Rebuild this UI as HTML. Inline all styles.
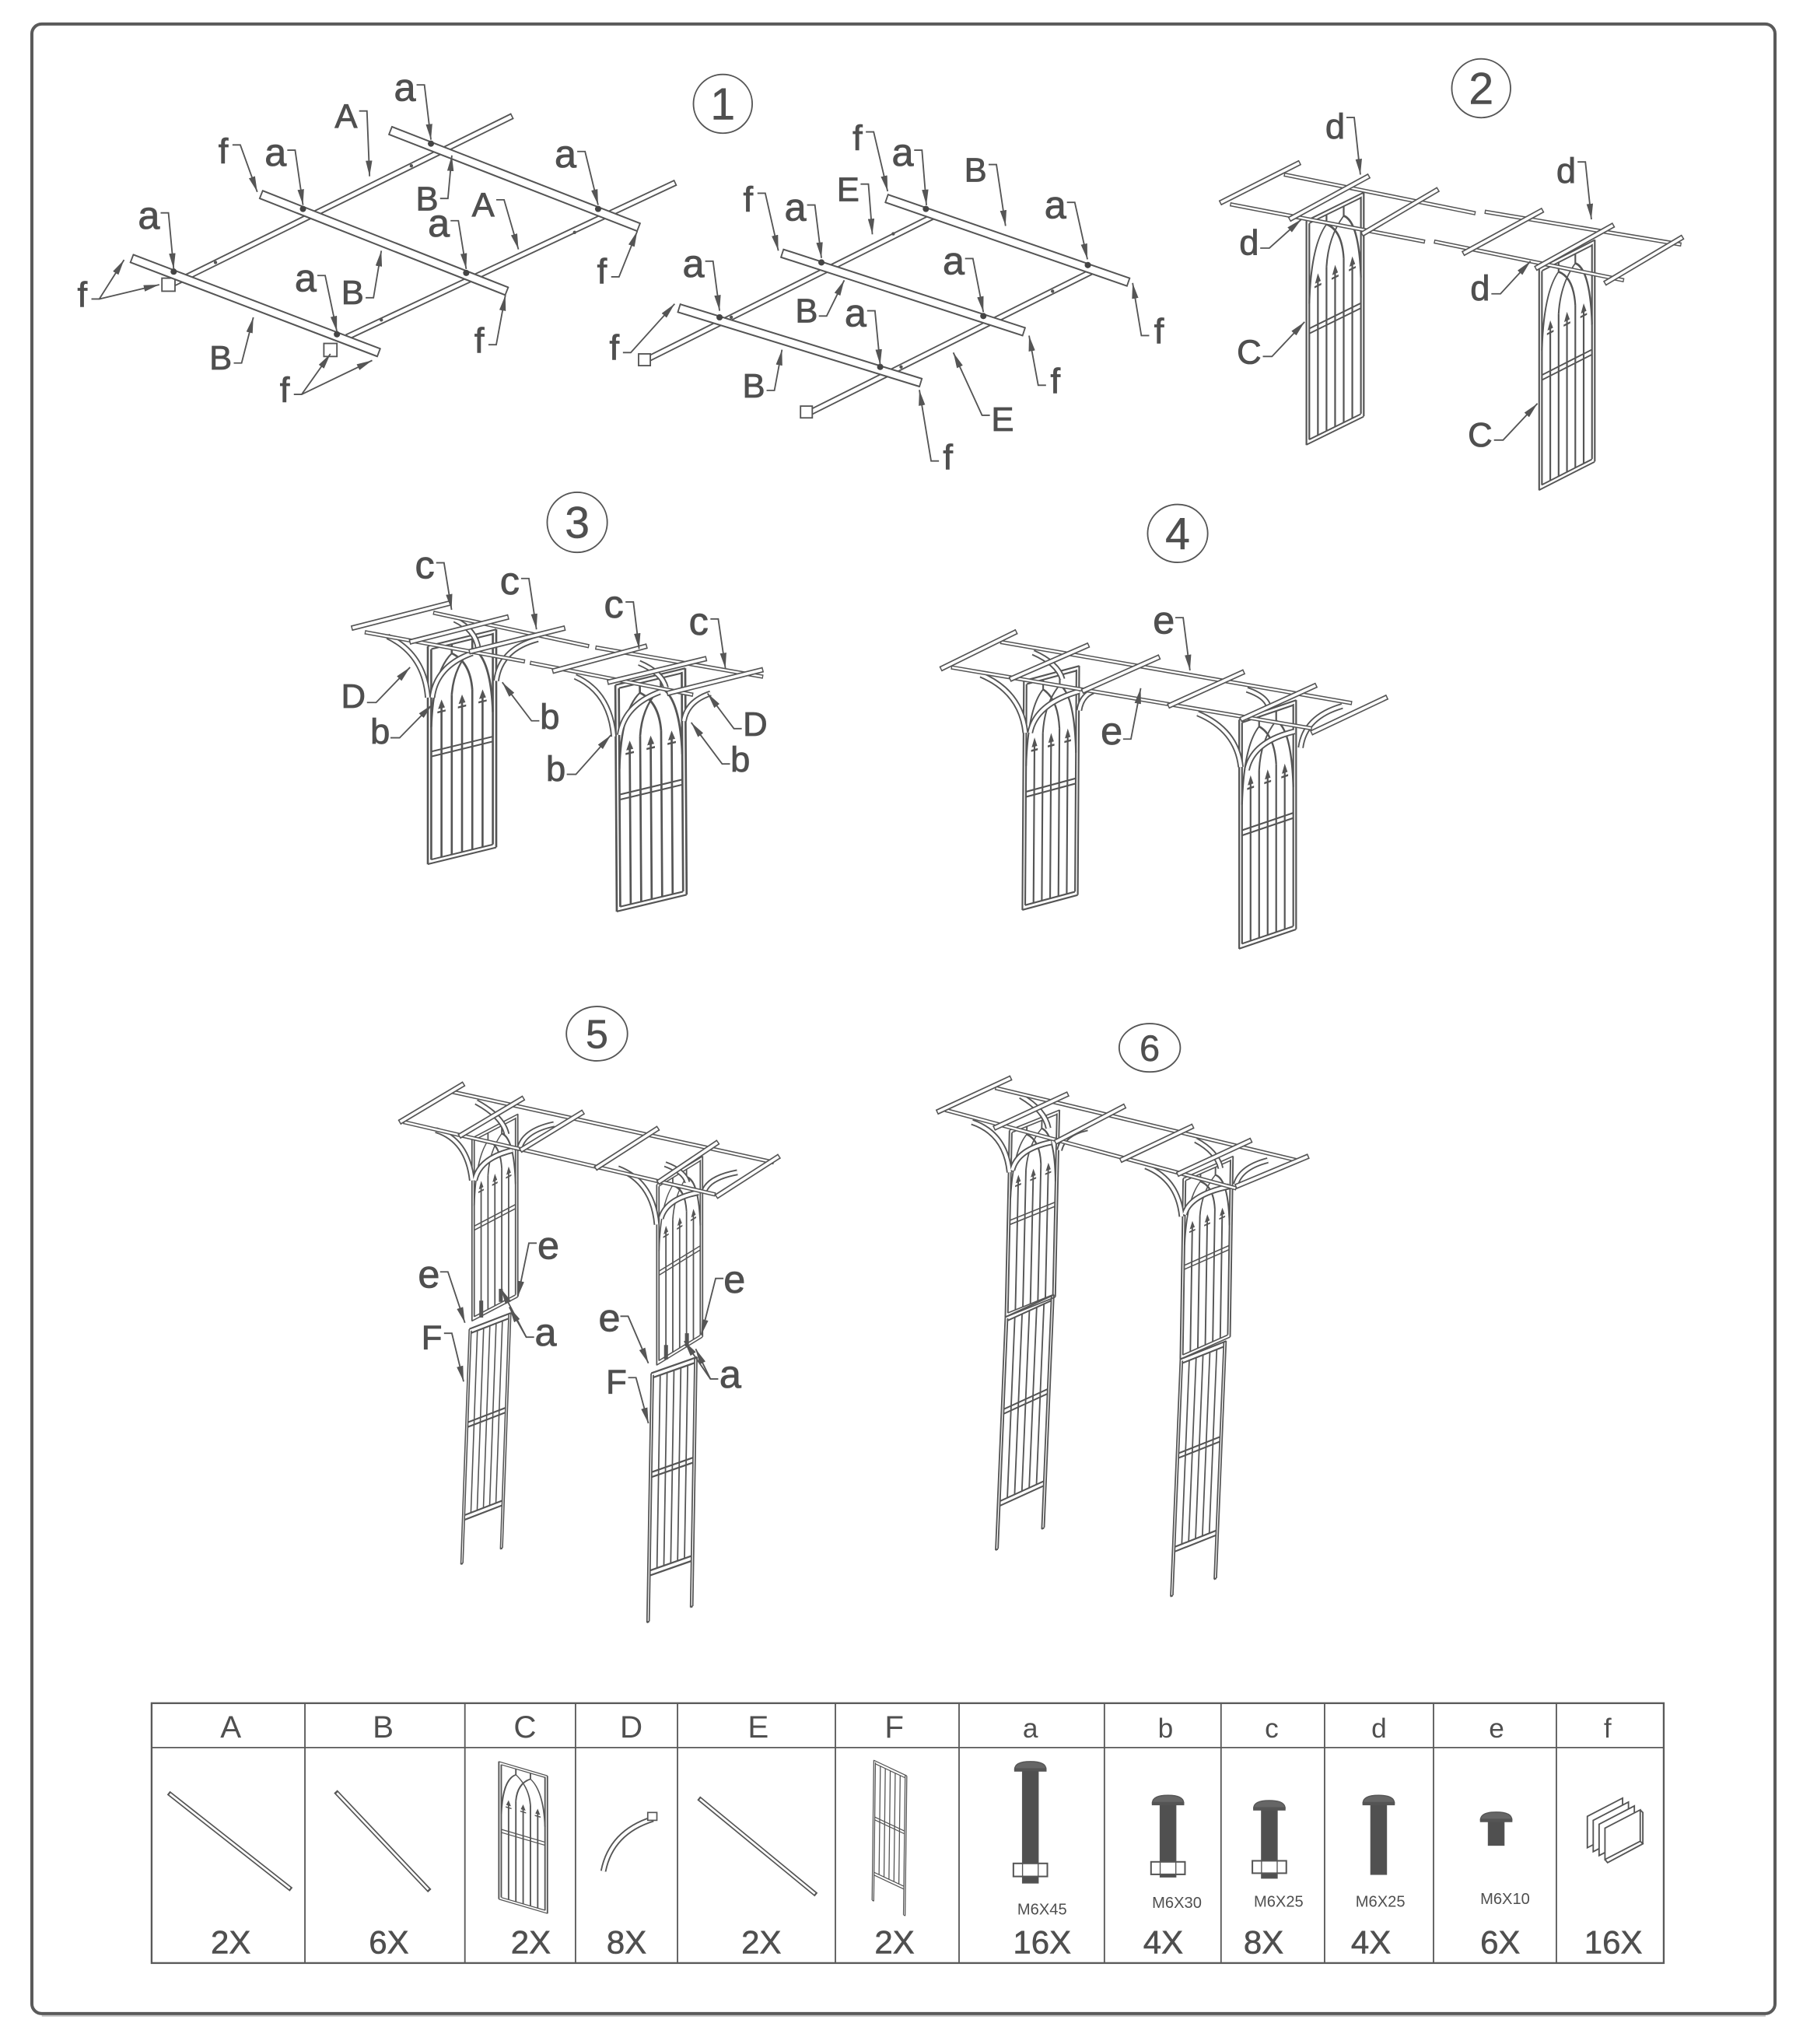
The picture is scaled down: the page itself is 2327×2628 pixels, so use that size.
<!DOCTYPE html>
<html><head><meta charset="utf-8">
<style>
html,body{margin:0;padding:0;background:#fff;overflow:hidden}
svg{display:block}
text{font-family:"Liberation Sans",Arial,sans-serif;fill:#4f4f4f}
.lc{font-size:30px;text-anchor:middle;stroke:#4f4f4f;stroke-width:.5}
.la{font-size:27px;text-anchor:middle;stroke:#4f4f4f;stroke-width:.5}
.lC{font-size:26px;text-anchor:middle;stroke:#4f4f4f;stroke-width:.5}
.num{font-size:34px;text-anchor:middle;stroke:#4f4f4f;stroke-width:.3}
.th{font-size:24px;text-anchor:middle}
.tl{font-size:21px;text-anchor:middle}
.tc{font-size:25px;text-anchor:middle;stroke:#4f4f4f;stroke-width:.35}
.ts{font-size:12px;text-anchor:middle}
.ld{stroke:#555;stroke-width:1.1;fill:none;marker-end:url(#ar)}
.bo{stroke:#555;stroke-width:7.5;fill:none}
.bi{stroke:#fff;stroke-width:5.1;fill:none;marker-start:url(#c7);marker-mid:url(#c7);marker-end:url(#c7)}
.ro{stroke:#555;stroke-width:5;fill:none}
.ri{stroke:#fff;stroke-width:2.8;fill:none;marker-start:url(#c5);marker-mid:url(#c5);marker-end:url(#c5)}
.go{stroke:#555;stroke-width:4.2;fill:none}
.gi{stroke:#fff;stroke-width:2.2;fill:none;marker-start:url(#c4);marker-mid:url(#c4);marker-end:url(#c4)}
.so{stroke:#555;stroke-width:3.2;fill:none}
.si{stroke:#fff;stroke-width:1.4;fill:none;marker-start:url(#c3);marker-mid:url(#c3);marker-end:url(#c3)}
.do{stroke:#555;stroke-width:4.6;fill:none}
.di{stroke:#fff;stroke-width:2.4;fill:none}
.cir{stroke:#555;stroke-width:1.1;fill:none}
</style></head><body>
<svg width="2327" height="2628" viewBox="0 0 1386 1565.3" preserveAspectRatio="none" xmlns="http://www.w3.org/2000/svg">
<defs>
<marker id="ar" markerUnits="userSpaceOnUse" viewBox="0 0 12 5" refX="12" refY="2.5" markerWidth="12" markerHeight="5" orient="auto"><path d="M0,0L12,2.5L0,5z" fill="#555"/></marker>
<marker id="c7" markerUnits="userSpaceOnUse" viewBox="0 0 12 12" refX="6" refY="6" markerWidth="12" markerHeight="12" orient="auto"><path d="M6,2.3V9.7" stroke="#555" stroke-width="1.1"/></marker>
<marker id="c5" markerUnits="userSpaceOnUse" viewBox="0 0 12 12" refX="6" refY="6" markerWidth="12" markerHeight="12" orient="auto"><path d="M6,3.5V8.5" stroke="#555" stroke-width="1"/></marker>
<marker id="c4" markerUnits="userSpaceOnUse" viewBox="0 0 12 12" refX="6" refY="6" markerWidth="12" markerHeight="12" orient="auto"><path d="M6,3.9V8.1" stroke="#555" stroke-width=".9"/></marker>
<marker id="c3" markerUnits="userSpaceOnUse" viewBox="0 0 12 12" refX="6" refY="6" markerWidth="12" markerHeight="12" orient="auto"><path d="M6,4.4V7.6" stroke="#555" stroke-width=".8"/></marker>
<g id="pc" fill="none" stroke="#555" stroke-width="3">
<path d="M0,0V400M5,7V393M95,5V393M100,0V400M0,0H100M5,7H95M0,400H100M5,393H95"/>
<path d="M5,195H95M5,204H95"/>
<path d="M20,114V393M50,114V393M80,114V393M35,100V393M65,100V393"/>
<path d="M5,150Q8,48 35,24Q62,48 65,100M35,100Q38,48 65,24Q92,48 95,150M35,7V24M65,7V24"/>
<path d="M20,104l-5,16h10zM50,104l-5,16h10zM80,104l-5,16h10z" fill="#555" stroke="none"/>
<path d="M14,126H26M44,126H56M74,126H86" stroke-width="3.5"/>
</g>
<g id="pf" fill="none" stroke="#555" stroke-width="3">
<path d="M0,0V400M5,4V400M95,0V400M100,0V400M0,400H5M95,400H100"/>
<path d="M0,0H100M5,8H95M5,160H95M5,168H95M5,318H95M5,326H95"/>
<path d="M20,8V318M35,8V318M50,8V318M65,8V318M80,8V318"/>
</g>
</defs>

<!-- outer border -->
<rect x="24.4" y="18.4" width="1334.8" height="1523.6" rx="7.5" fill="none" stroke="#5a5a5a" stroke-width="2.4"/>
<path d="M32,1543.8H1352" stroke="#bbb" stroke-width="1"/>

<!-- step circles -->
<circle class="cir" cx="553.5" cy="79.5" r="22.5"/><text class="num" x="553.5" y="91.5">1</text>
<circle class="cir" cx="1134.2" cy="67.6" r="22.5"/><text class="num" x="1134.2" y="79.6">2</text>
<circle class="cir" cx="442" cy="400" r="23"/><text class="num" x="442" y="412">3</text>
<ellipse class="cir" cx="901.8" cy="408.5" rx="23" ry="22.2"/><text class="num" x="901.8" y="420.5">4</text>
<ellipse class="cir" cx="457.1" cy="791.6" rx="23.4" ry="20.8"/><text class="num" x="457.1" y="802.5" style="font-size:31px">5</text>
<ellipse class="cir" cx="880.4" cy="802.4" rx="23.4" ry="18.5"/><text class="num" x="880.4" y="812.5" style="font-size:28px">6</text>

<!-- ============ STEP 1 LEFT ============ -->
<path class="ro" d="M392,89L125,221M517,140L266,258"/>
<path class="ri" d="M392,89L125,221M517,140L266,258"/>
<g fill="#555"><circle cx="165" cy="201" r="1.3"/><circle cx="315" cy="127" r="1.3"/><circle cx="292" cy="245" r="1.3"/><circle cx="440" cy="178" r="1.3"/></g>
<rect x="124" y="213" width="10" height="10" fill="#fff" stroke="#555" stroke-width="1.1"/>
<rect x="248" y="263" width="10" height="10" fill="#fff" stroke="#555" stroke-width="1.1"/>
<path class="bo" d="M299,100L489,174M200,149L388,223M101,198L290,270"/>
<path class="bi" d="M299,100L489,174M200,149L388,223M101,198L290,270"/>
<g fill="#444"><circle cx="330" cy="110" r="2.4"/><circle cx="458" cy="160" r="2.4"/><circle cx="232" cy="160" r="2.4"/><circle cx="357" cy="209" r="2.4"/><circle cx="133" cy="208" r="2.4"/><circle cx="258" cy="256" r="2.4"/></g>

<text class="lc" x="310" y="77">a</text><path class="ld" d="M319,65H325L330,107"/>
<text class="lC" x="265" y="98">A</text><path class="ld" d="M275,85H281L283,135"/>
<text class="la" x="171" y="125">f</text><path class="ld" d="M178,111H184L197,147"/>
<text class="lc" x="211" y="127">a</text><path class="ld" d="M220,115H226L232,157"/>
<text class="lC" x="327" y="161">B</text><path class="ld" d="M337,152H343L346,119"/>
<text class="lC" x="370" y="166">A</text><path class="ld" d="M380,153H386L397,191"/>
<text class="lc" x="433" y="128">a</text><path class="ld" d="M442,116H448L458,157"/>
<text class="lc" x="114" y="175">a</text><path class="ld" d="M123,163H129L133,206"/>
<text class="lc" x="336" y="181">a</text><path class="ld" d="M345,169H351L357,206"/>
<text class="la" x="461" y="217">f</text><path class="ld" d="M468,212H474L488,177"/>
<text class="la" x="63" y="235">f</text><path class="ld" d="M70,229H76L95,199"/><path class="ld" d="M76,229L122,218"/>
<text class="lc" x="234" y="223">a</text><path class="ld" d="M243,211H249L258,254"/>
<text class="lC" x="270" y="233">B</text><path class="ld" d="M280,228H286L292,192"/>
<text class="la" x="367" y="270">f</text><path class="ld" d="M374,264H380L387,226"/>
<text class="lC" x="169" y="283">B</text><path class="ld" d="M179,278H185L194,243"/>
<text class="la" x="218" y="308">f</text><path class="ld" d="M225,302H231L253,271"/><path class="ld" d="M231,302L285,276"/>

<!-- ============ STEP 1 RIGHT ============ -->
<path class="ro" d="M714,166L494,276M838,207L618,317"/>
<path class="ri" d="M714,166L494,276M838,207L618,317"/>
<rect x="489" y="271" width="9" height="9" fill="#fff" stroke="#555" stroke-width="1.1"/>
<rect x="613" y="311" width="9" height="9" fill="#fff" stroke="#555" stroke-width="1.1"/>
<g fill="#555"><circle cx="684" cy="179" r="1.3"/><circle cx="560" cy="243" r="1.3"/><circle cx="806" cy="223" r="1.3"/><circle cx="690" cy="281" r="1.3"/></g>
<path class="bo" d="M679,152L864,216M599,194L784,254M520,236L705,293"/>
<path class="bi" d="M679,152L864,216M599,194L784,254M520,236L705,293"/>
<g fill="#444"><circle cx="709" cy="160" r="2.4"/><circle cx="629" cy="201" r="2.4"/><circle cx="833" cy="203" r="2.4"/><circle cx="551" cy="243" r="2.4"/><circle cx="753" cy="242" r="2.4"/><circle cx="674" cy="281" r="2.4"/></g>

<text class="la" x="656.6" y="115">f</text><path class="ld" d="M663,101H669L679.7,146.5"/>
<text class="lc" x="691.2" y="127">a</text><path class="ld" d="M700,115H706L709.4,157.2"/>
<text class="lC" x="747" y="139">B</text><path class="ld" d="M757,126H763L770,173"/>
<text class="lC" x="649.4" y="154">E</text><path class="ld" d="M659,141H665L668,179.5"/>
<text class="la" x="572.9" y="162">f</text><path class="ld" d="M580,148H586L596,192"/>
<text class="lc" x="609" y="169">a</text><path class="ld" d="M618,157H624L629,197.6"/>
<text class="lc" x="808.1" y="167">a</text><path class="ld" d="M817,155H823L832.7,198.6"/>
<text class="lc" x="531" y="212">a</text><path class="ld" d="M540,200H546L551,238"/>
<text class="lc" x="730.2" y="210">a</text><path class="ld" d="M739,198H745L753,239"/>
<text class="lC" x="617.6" y="247">B</text><path class="ld" d="M627,242H633L646.5,214.6"/>
<text class="lc" x="655.1" y="250">a</text><path class="ld" d="M664,238H670L674,279.5"/>
<text class="la" x="470.4" y="275.5">f</text><path class="ld" d="M477,270H483L516.6,232.7"/>
<text class="la" x="887.5" y="263">f</text><path class="ld" d="M880,257H874L867.3,216.7"/>
<text class="lC" x="577.2" y="304.5">B</text><path class="ld" d="M587,299H593L598.8,267.8"/>
<text class="la" x="808.1" y="301">f</text><path class="ld" d="M801,295H795L788,257"/>
<text class="lC" x="767.7" y="330">E</text><path class="ld" d="M758,318H752L730,270"/>
<text class="la" x="725.9" y="359.5">f</text><path class="ld" d="M719,353H713L704,298.6"/>

<!-- ============ STEP 2 ============ -->
<use href="#pc" transform="matrix(.439,-.216,0,.429,1000.4,169)"/>
<use href="#pc" transform="matrix(.426,-.217,0,.4245,1178.6,205.5)"/>
<path class="so" d="M983.6,133.7L1129.5,163.3M942.3,156.5L1090.8,185M1137.3,162.2L1287.1,187.2M1098.5,185L1243.2,214.6"/>
<path class="si" d="M983.6,133.7L1129.5,163.3M942.3,156.5L1090.8,185M1137.3,162.2L1287.1,187.2M1098.5,185L1243.2,214.6"/>
<path class="go" d="M934.5,155.3L995.2,124.6M987.5,167.9L1048.2,134.8M1043,179.3L1101.1,145.1M1120.5,194.1L1181.2,161M1176,205.5L1235.4,172.4M1229,216.9L1288.4,181.6"/>
<path class="gi" d="M934.5,155.3L995.2,124.6M987.5,167.9L1048.2,134.8M1043,179.3L1101.1,145.1M1120.5,194.1L1181.2,161M1176,205.5L1235.4,172.4M1229,216.9L1288.4,181.6"/>
<text class="la" x="1022.4" y="106">d</text><path class="ld" d="M1031,90H1037L1041.7,133.7"/>
<text class="la" x="956.5" y="195">d</text><path class="ld" d="M965,190H972L996.5,168"/>
<text class="la" x="1199.3" y="140">d</text><path class="ld" d="M1208,124H1214L1218.6,168"/>
<text class="la" x="1133.4" y="230">d</text><path class="ld" d="M1142,225H1149L1172,200"/>
<text class="lC" x="956.5" y="278.5">C</text><path class="ld" d="M967,273H974L999,246.5"/>
<text class="lC" x="1133.4" y="342">C</text><path class="ld" d="M1144,337H1151L1177.3,309"/>

<!-- ============ STEP 3 ============ -->
<use href="#pc" transform="matrix(.524,-.128,0,.4175,327.6,494.8)"/>
<use href="#pc" transform="matrix(.535,-.128,.00275,.4335,471.2,524.6)"/>
<path class="do" d="M296.8,487.4Q325,501 327.6,534.2M361.8,500.1Q334,510 331,534.2M411.9,489.5Q383,497 380,521.4M348.1,474.6Q364,482 366.3,497M440.4,518.2Q467,530 470,564M505.3,529.9Q478,540 474.6,562.9M544.1,531Q526,537 523.6,552.2M489.4,507.6Q507,515 509.9,526.7"/>
<path class="di" d="M296.8,487.4Q325,501 327.6,534.2M361.8,500.1Q334,510 331,534.2M411.9,489.5Q383,497 380,521.4M348.1,474.6Q364,482 366.3,497M440.4,518.2Q467,530 470,564M505.3,529.9Q478,540 474.6,562.9M544.1,531Q526,537 523.6,552.2M489.4,507.6Q507,515 509.9,526.7"/>
<path class="so" d="M279.7,484.2L401.6,506.5M332.1,469.3L450.7,494.8M406.2,507.6L530.4,532M456.3,495.9L584,518.2"/>
<path class="si" d="M279.7,484.2L401.6,506.5M332.1,469.3L450.7,494.8M406.2,507.6L530.4,532M456.3,495.9L584,518.2"/>
<path class="go" d="M269.5,481L344.7,461.8M313.9,491.6L389.1,472.5M359.5,499.1L432.4,481M423.3,514L495.1,494.8M465.5,522.5L540.7,504.4M511,531L584,512.9"/>
<path class="gi" d="M269.5,481L344.7,461.8M313.9,491.6L389.1,472.5M359.5,499.1L432.4,481M423.3,514L495.1,494.8M465.5,522.5L540.7,504.4M511,531L584,512.9"/>
<text class="lc" x="325.3" y="443">c</text><path class="ld" d="M334,431H340L345.8,467"/>
<text class="lc" x="390.3" y="455">c</text><path class="ld" d="M399,443H405L410.8,482"/>
<text class="lc" x="470" y="473">c</text><path class="ld" d="M479,461H485L489.4,497"/>
<text class="lc" x="535" y="486">c</text><path class="ld" d="M544,474H550L555.5,512"/>
<text class="lC" x="270.6" y="542">D</text><path class="ld" d="M281,538H288L314,511"/>
<text class="la" x="291.1" y="569.5">b</text><path class="ld" d="M299,565H306L331,539.5"/>
<text class="la" x="421" y="558">b</text><path class="ld" d="M413,552H407L384.6,522.5"/>
<text class="lC" x="578.3" y="563.5">D</text><path class="ld" d="M568,558H562L541.8,531"/>
<text class="la" x="425.6" y="598">b</text><path class="ld" d="M434,593H441L467.7,563"/>
<text class="la" x="566.9" y="591">b</text><path class="ld" d="M559,585H553L529.3,553.3"/>

<!-- ============ STEP 4 ============ -->
<use href="#pc" transform="matrix(.424,-.114,-.00275,.4385,784,521.4)"/>
<use href="#pc" transform="matrix(.436,-.148,0,.43875,948.9,551)"/>
<path class="do" d="M751.1,516.8Q782,530 785.2,561.2M826.4,529.3Q793,539 788.8,561.2M837,529.3Q828,533 826.4,544.1M791.1,499.7Q810,508 813.5,520.2M917.1,546.4Q947,559 950.1,587.4M991.3,560.1Q959,568 954.8,589.7M1027.8,540.7Q999,549 996,572.6M954.8,528.2Q969,533 971.3,540.7"/>
<path class="di" d="M751.1,516.8Q782,530 785.2,561.2M826.4,529.3Q793,539 788.8,561.2M837,529.3Q828,533 826.4,544.1M791.1,499.7Q810,508 813.5,520.2M917.1,546.4Q947,559 950.1,587.4M991.3,560.1Q959,568 954.8,589.7M1027.8,540.7Q999,549 996,572.6M954.8,528.2Q969,533 971.3,540.7"/>
<path class="so" d="M766.4,491.7L1034.9,538.4M728.7,511.1L1004.3,557.8"/>
<path class="si" d="M766.4,491.7L1034.9,538.4M728.7,511.1L1004.3,557.8"/>
<path class="go" d="M720.5,512.2L778.2,483.8M773.5,520.2L833.5,494M828.8,529.3L887.7,503.1M894.7,540.7L952.4,514.5M950.1,551L1007.8,524.8M1004.3,561.2L1062,533.9"/>
<path class="gi" d="M720.5,512.2L778.2,483.8M773.5,520.2L833.5,494M828.8,529.3L887.7,503.1M894.7,540.7L952.4,514.5M950.1,551L1007.8,524.8M1004.3,561.2L1062,533.9"/>
<text class="lc" x="891.2" y="485">e</text><path class="ld" d="M900,473H906L911.2,513.4"/>
<text class="lc" x="851.2" y="570">e</text><path class="ld" d="M860,566H866L873.5,527"/>

<!-- ============ STEP 5 ============ -->
<use href="#pc" transform="matrix(.351,-.184,0,.35,361.4,871.6)"/>
<use href="#pf" transform="matrix(.319,-.123,-.016,.45,359.3,1017.8)"/>
<use href="#pc" transform="matrix(.351,-.215,0,.346,502.9,907)"/>
<use href="#pf" transform="matrix(.351,-.123,-.008,.477,498.6,1051.6)"/>
<g fill="#555"><rect x="367" y="996" width="3" height="13"/><rect x="382" y="987" width="3" height="10"/><rect x="508.5" y="1030" width="3" height="11"/><rect x="524.5" y="1021" width="3" height="10"/></g>
<path class="do" d="M333.8,865.5Q358,873 361.4,904M392.3,880.9Q367,887 363.5,904M424.2,860.9Q400,866 397.6,880.9M364.6,843.9Q385,855 388,868.6M473.1,894.7Q500,905 502.9,937.8M534.8,913.2Q510,918 506.1,933.2M564.6,897.8Q542,902 539,913.2M509.3,891.6Q524,897 526.3,905.5"/>
<path class="di" d="M333.8,865.5Q358,873 361.4,904M392.3,880.9Q367,887 363.5,904M424.2,860.9Q400,866 397.6,880.9M364.6,843.9Q385,855 388,868.6M473.1,894.7Q500,905 502.9,937.8M534.8,913.2Q510,918 506.1,933.2M564.6,897.8Q542,902 539,913.2M509.3,891.6Q524,897 526.3,905.5"/>
<path class="so" d="M346.5,836.2L592.2,890.1M309.3,859.3L547.5,914.7"/>
<path class="si" d="M346.5,836.2L592.2,890.1M309.3,859.3L547.5,914.7"/>
<path class="go" d="M306.1,859.3L355,830.1M351.8,870.1L400.8,840.9M398.6,880.9L446.5,851.6M456.1,894.7L503.9,864M503.9,905.5L549.7,874.7M548.6,916.3L596.5,885.5"/>
<path class="gi" d="M306.1,859.3L355,830.1M351.8,870.1L400.8,840.9M398.6,880.9L446.5,851.6M456.1,894.7L503.9,864M503.9,905.5L549.7,874.7M548.6,916.3L596.5,885.5"/>
<text class="lc" x="328.4" y="986">e</text><path class="ld" d="M337,974H343L356,1013"/>
<text class="lc" x="419.9" y="964">e</text><path class="ld" d="M411,952H405L396.5,993"/>
<text class="lc" x="417.8" y="1030.5">a</text><path class="ld" d="M409,1024H403L390,1001"/><path class="ld" d="M403,1024L383.7,987"/>
<text class="lC" x="330.6" y="1033">F</text><path class="ld" d="M340,1021H346L355,1058"/>
<text class="lc" x="466.7" y="1019.5">e</text><path class="ld" d="M475,1008H481L496.5,1044"/>
<text class="lc" x="562.4" y="990">e</text><path class="ld" d="M554,979H548L537,1022.4"/>
<text class="lc" x="559.2" y="1062.5">a</text><path class="ld" d="M550,1056H544L532.7,1033"/><path class="ld" d="M544,1056L524,1027"/>
<text class="lC" x="472" y="1067">F</text><path class="ld" d="M481,1055H487L496.5,1090"/>

<!-- ============ STEP 6 ============ -->
<use href="#pc" transform="matrix(.383,-.154,-.008,.358,773,865.5)"/>
<use href="#pf" transform="matrix(.372,-.17,-.0185,.446,769.8,1008.6)"/>
<use href="#pc" transform="matrix(.382,-.169,-.0055,.346,906,902.4)"/>
<use href="#pf" transform="matrix(.351,-.139,-.0185,.454,903.8,1040.9)"/>
<path class="do" d="M744.3,859.3Q770,868 773,897.8M804.9,874.7Q779,880 775.1,896.2M832.6,864Q814,868 811.3,880.9M781.5,839.3Q800,850 802.8,864M877.2,893.2Q902,903 904.9,931.6M941.1,908.6Q911,915 907,930.1M970.8,888.6Q950,894 946.4,907M915.5,873.2Q932,882 934.7,894.7"/>
<path class="di" d="M744.3,859.3Q770,868 773,897.8M804.9,874.7Q779,880 775.1,896.2M832.6,864Q814,868 811.3,880.9M781.5,839.3Q800,850 802.8,864M877.2,893.2Q902,903 904.9,931.6M941.1,908.6Q911,915 907,930.1M970.8,888.6Q950,894 946.4,907M915.5,873.2Q932,882 934.7,894.7"/>
<path class="so" d="M762.4,833.2L993.2,888.6M724.1,850.1L946.4,910"/>
<path class="si" d="M762.4,833.2L993.2,888.6M724.1,850.1L946.4,910"/>
<path class="go" d="M717.7,851.6L774,825.5M761.3,863.9L817.7,837.8M808.1,874.7L861.3,847M858.1,888.6L913.4,862.4M901.7,899.3L958,873.2M946.4,908.6L1001.7,885.5"/>
<path class="gi" d="M717.7,851.6L774,825.5M761.3,863.9L817.7,837.8M808.1,874.7L861.3,847M858.1,888.6L913.4,862.4M901.7,899.3L958,873.2M946.4,908.6L1001.7,885.5"/>

<!-- ============ TABLE ============ -->
<g stroke="#5a5a5a" fill="none">
<rect x="116.1" y="1304.3" width="1157.9" height="199" stroke-width="1.4"/>
<path stroke-width="1.1" d="M116.1,1338.3H1274M233.5,1304.3V1503.3M356,1304.3V1503.3M440.7,1304.3V1503.3M518.8,1304.3V1503.3M639.7,1304.3V1503.3M734.4,1304.3V1503.3M845.7,1304.3V1503.3M935,1304.3V1503.3M1014.3,1304.3V1503.3M1097.7,1304.3V1503.3M1191.8,1304.3V1503.3"/>
</g>
<text class="th" x="176.7" y="1330.5">A</text>
<text class="th" x="293.4" y="1330.5">B</text>
<text class="th" x="402" y="1330.5">C</text>
<text class="th" x="483.4" y="1330.5">D</text>
<text class="th" x="580.6" y="1330.5">E</text>
<text class="th" x="684.8" y="1330.5">F</text>
<text class="tl" x="789" y="1330.5">a</text>
<text class="tl" x="892.5" y="1330.5">b</text>
<text class="tl" x="973.8" y="1330.5">c</text>
<text class="tl" x="1056" y="1330.5">d</text>
<text class="tl" x="1146" y="1330.5">e</text>
<text class="tl" x="1231" y="1330.5">f</text>

<text class="tc" x="176.7" y="1496">2X</text>
<text class="tc" x="297.8" y="1496">6X</text>
<text class="tc" x="406.5" y="1496">2X</text>
<text class="tc" x="479.8" y="1496">8X</text>
<text class="tc" x="583" y="1496">2X</text>
<text class="tc" x="685" y="1496">2X</text>
<text class="tc" x="798" y="1496">16X</text>
<text class="tc" x="890.7" y="1496">4X</text>
<text class="tc" x="967.6" y="1496">8X</text>
<text class="tc" x="1049.8" y="1496">4X</text>
<text class="tc" x="1148.8" y="1496">6X</text>
<text class="tc" x="1235.4" y="1496">16X</text>

<text class="ts" x="798" y="1466">M6X45</text>
<text class="ts" x="901.2" y="1461.2">M6X30</text>
<text class="ts" x="979.1" y="1460.2">M6X25</text>
<text class="ts" x="1057" y="1460.2">M6X25</text>
<text class="ts" x="1152.5" y="1458.2">M6X10</text>

<!-- icons A B E -->
<path stroke="#555" stroke-width="3.6" d="M129,1373L223,1447M257,1372L329,1448M535,1377L625,1451" fill="none"/>
<path stroke="#fff" stroke-width="1.6" d="M130,1373.8L222,1446.2M258,1373L328,1447M536,1377.8L624,1450.2" fill="none"/>
<!-- icon C -->
<use href="#pc" transform="matrix(.372,.109,0,.2635,382,1349)"/>
<!-- icon D -->
<path class="do" d="M500,1393Q468,1403 462,1433"/>
<path class="di" d="M500,1393Q468,1403 462,1433"/>
<rect x="496" y="1388" width="7" height="6" fill="#fff" stroke="#555" stroke-width="1"/>
<!-- icon F -->
<use href="#pf" transform="matrix(.253,.119,-.00325,.268,669.1,1348)"/>

<!-- screws -->
<g stroke="#555" stroke-width=".8">
<path d="M777,1355Q777,1349 789,1349Q801,1349 801,1355Z" fill="#666"/>
<rect x="777" y="1354.5" width="24" height="1.8" fill="#555"/>
<rect x="783" y="1356" width="12" height="86" fill="#505050"/>
<rect x="776" y="1427" width="26" height="10" fill="#fff" stroke-width="1.2"/>
<path d="M783,1427V1437M795,1427V1437"/>

<path d="M882.4,1380.8Q882.4,1374.8 894.4,1374.8Q906.4,1374.8 906.4,1380.8Z" fill="#666"/>
<rect x="882.4" y="1380.3" width="24" height="1.8" fill="#555"/>
<rect x="888.4" y="1382" width="12" height="55.4" fill="#505050"/>
<rect x="881.4" y="1425.8" width="26" height="9.6" fill="#fff" stroke-width="1.2"/>
<path d="M888.4,1425.8V1435.4M900.4,1425.8V1435.4"/>

<path d="M960,1384.8Q960,1378.8 972,1378.8Q984,1378.8 984,1384.8Z" fill="#666"/>
<rect x="960" y="1384.3" width="24" height="1.8" fill="#555"/>
<rect x="966" y="1386" width="12" height="52.3" fill="#505050"/>
<rect x="959" y="1425" width="26" height="9.5" fill="#fff" stroke-width="1.2"/>
<path d="M966,1425V1434.5M978,1425V1434.5"/>

<path d="M1043.7,1380.8Q1043.7,1374.8 1055.7,1374.8Q1067.7,1374.8 1067.7,1380.8Z" fill="#666"/>
<rect x="1043.7" y="1380.3" width="24" height="1.8" fill="#555"/>
<rect x="1049.7" y="1382" width="12" height="53.4" fill="#505050"/>

<path d="M1133.7,1393.7Q1133.7,1387.7 1145.7,1387.7Q1157.7,1387.7 1157.7,1393.7Z" fill="#666"/>
<rect x="1133.7" y="1393.2" width="24" height="1.8" fill="#555"/>
<rect x="1139.7" y="1395" width="12" height="18.1" fill="#505050"/>
</g>
<!-- icon f plates -->
<g fill="#fff" stroke="#555" stroke-width="1.1">
<path d="M1215.5,1391L1242.5,1377L1242.5,1401L1215.5,1415Z"/>
<path d="M1220,1394L1247,1380L1247,1404L1220,1418Z"/>
<path d="M1224.5,1397L1251.5,1383L1251.5,1407L1224.5,1421Z"/>
<path d="M1229,1400L1256,1386L1256,1410L1229,1424Z"/>
<path d="M1229,1424L1231,1426.4L1258,1412L1256,1410M1256,1386L1258,1388L1258,1412" fill="none"/>
</g>
</svg>
</body></html>
